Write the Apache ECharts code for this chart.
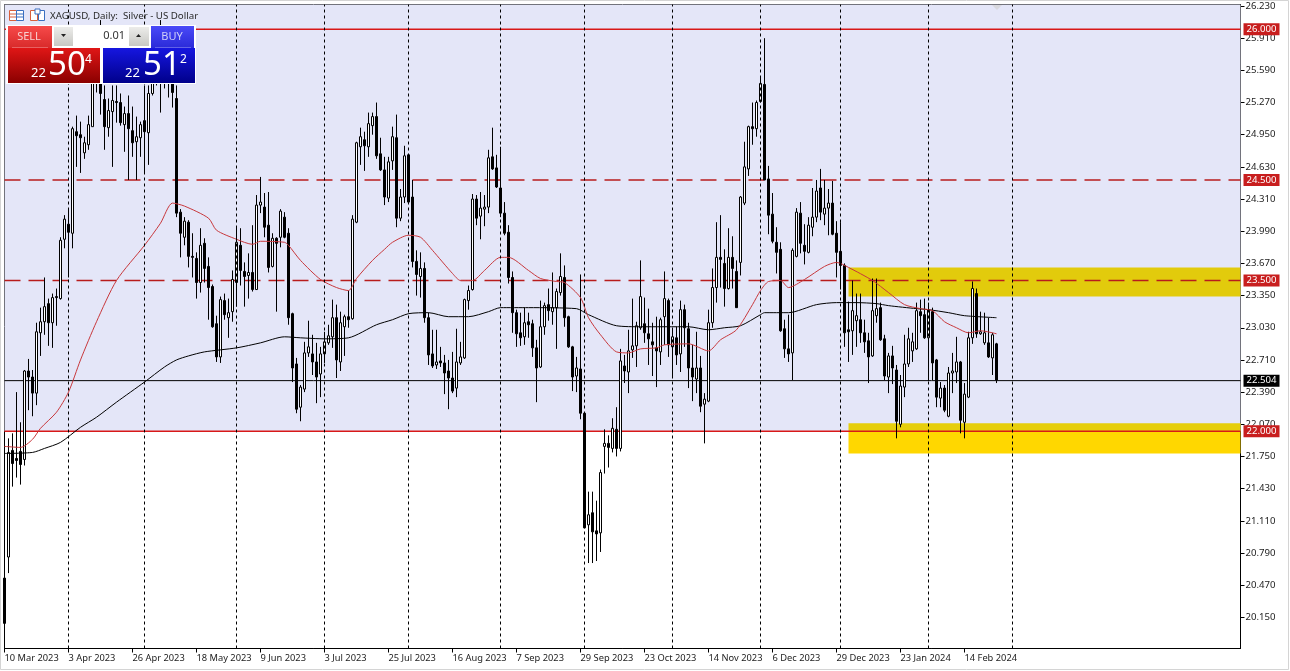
<!DOCTYPE html>
<html><head><meta charset="utf-8">
<style>html,body{margin:0;padding:0;background:#fff}#c{width:1290px;height:671px}</style>
<script src="https://cdn.jsdelivr.net/npm/echarts@6/dist/echarts.min.js"></script>
</head><body><div id="c"></div>
<script>
const opens=[20.54,20.75,21.81,21.73,21.80,21.72,22.60,22.54,22.38,22.98,
23.09,23.27,23.08,23.34,23.32,23.91,24.06,23.97,24.98,24.95,
24.77,24.85,25.03,25.69,25.67,25.30,25.02,25.18,25.28,25.27,
25.05,25.16,24.99,24.88,24.92,25.09,24.97,25.36,25.69,25.59,
25.77,25.67,25.54,25.31,24.18,23.93,24.08,23.74,23.72,23.48,
23.87,23.64,23.44,23.07,22.74,23.30,23.13,23.19,23.48,23.85,
23.59,23.55,23.58,23.41,24.25,24.23,24.05,23.64,23.92,23.93,
24.13,23.97,23.17,22.67,22.24,22.42,22.78,22.77,22.69,22.57,
22.77,22.88,22.94,23.13,22.69,23.04,23.14,23.12,24.08,24.83,
24.90,24.83,25.04,25.13,24.76,24.60,24.32,24.69,24.92,24.12,
24.33,24.75,24.33,23.69,23.54,23.62,23.13,22.77,22.66,22.70,
22.68,22.60,22.53,22.43,22.68,22.73,23.30,23.41,24.31,24.14,
24.21,24.23,24.73,24.62,24.42,24.17,23.98,23.53,23.18,22.98,
22.94,23.09,23.07,22.83,22.64,23.04,23.26,23.19,23.23,23.38,
23.53,23.14,22.84,22.55,22.62,22.18,21.07,21.19,21.01,20.99,
21.85,21.88,21.83,22.02,21.83,22.65,22.59,22.81,22.85,23.03,
23.07,22.97,22.89,22.83,22.79,23.14,23.30,22.84,22.93,22.77,
23.21,23.02,22.63,22.52,22.63,22.27,22.30,23.08,23.43,23.73,
23.67,23.42,23.73,23.59,23.68,24.27,24.61,25.03,25.01,25.28,
25.45,24.51,24.16,23.88,23.81,23.02,22.82,22.78,23.74,24.17,
23.85,23.78,24.03,24.13,24.42,24.16,24.22,24.27,23.97,23.79,
23.65,23.01,23.00,23.10,23.11,22.98,22.90,22.75,23.15,23.23,
22.92,22.54,22.75,22.61,22.07,22.44,22.67,22.80,22.82,23.19,
23.16,22.93,23.19,22.71,22.33,22.43,22.15,22.58,22.59,22.69,
22.09,22.34,22.93,23.37,22.97,22.88,22.88,22.73,22.87];
const closes=[20.09,21.79,21.68,21.71,21.67,22.60,22.54,22.38,22.99,23.09,
23.24,23.08,23.33,23.33,23.90,24.11,23.98,25.01,24.94,24.92,
24.87,25.05,25.54,25.54,25.36,25.03,25.19,25.29,25.27,25.07,
25.16,25.01,24.87,24.93,25.05,24.98,25.36,25.61,25.57,25.79,
25.63,25.51,25.37,24.17,23.97,24.09,23.74,23.73,23.48,23.85,
23.62,23.43,23.04,22.74,23.31,23.16,23.18,23.51,23.88,23.60,
23.54,23.58,23.41,24.25,24.28,24.03,23.63,23.92,23.87,24.19,
23.93,23.13,22.63,22.22,22.44,22.78,22.84,22.69,22.54,22.77,
22.89,22.95,23.13,22.71,23.08,23.14,23.11,24.11,24.87,24.93,
24.84,25.06,25.13,24.74,24.60,24.33,24.68,24.93,24.12,24.33,
24.74,24.28,23.69,23.56,23.62,23.13,22.76,22.65,22.69,22.68,
22.58,22.53,22.40,22.69,22.74,23.31,23.40,24.31,24.12,24.22,
24.23,24.72,24.61,24.43,24.17,23.97,23.53,23.18,22.97,22.93,
23.08,23.06,22.83,22.63,23.04,23.25,23.20,23.23,23.39,23.54,
23.13,22.84,22.54,22.63,22.18,21.04,21.17,21.00,20.98,21.59,
21.88,21.84,22.03,21.83,22.70,22.60,22.80,22.85,23.05,23.34,
22.98,22.92,22.86,22.80,23.11,23.32,22.86,22.94,22.76,23.21,
23.03,22.63,22.54,22.63,22.25,22.32,23.08,23.43,23.73,23.71,
23.42,23.73,23.62,23.23,24.33,24.63,25.03,25.01,25.27,25.46,
24.50,24.15,23.89,23.78,23.00,22.82,22.77,23.80,24.18,23.87,
23.79,24.05,24.13,24.39,24.18,24.22,24.27,23.96,23.78,23.65,
22.98,22.99,23.20,23.15,22.98,22.89,22.74,23.20,23.22,22.91,
22.55,22.75,22.63,22.10,22.45,22.67,22.92,22.89,23.20,23.15,
22.93,23.21,22.68,22.34,22.43,22.21,22.58,22.60,22.69,22.11,
22.37,22.93,23.42,22.97,22.99,22.98,22.74,22.96,22.51];
const lows=[20.09,20.59,21.45,21.54,21.47,21.66,22.21,22.15,22.26,22.75,
22.96,22.85,22.83,23.05,23.31,23.82,23.53,23.82,24.63,24.57,
24.71,24.80,25.03,25.37,25.15,24.80,24.93,24.63,25.07,25.04,
24.78,24.50,24.73,24.50,24.73,24.57,24.65,25.34,25.44,25.17,
25.41,25.32,25.22,24.13,23.73,23.85,23.63,23.53,23.32,23.38,
23.48,23.11,23.03,22.69,22.68,23.11,22.93,23.09,23.24,23.45,
23.24,23.32,23.39,23.41,24.17,23.93,23.58,23.63,23.19,23.83,
23.92,23.06,22.49,22.18,22.10,22.39,22.74,22.56,22.28,22.34,
22.68,22.86,22.83,22.53,22.60,22.75,23.03,23.11,24.07,24.65,
24.59,24.73,24.95,24.71,24.59,24.25,24.28,24.60,24.03,24.09,
24.27,24.27,23.63,23.35,23.33,23.08,22.66,22.63,22.62,22.64,
22.37,22.22,22.38,22.34,22.66,22.72,23.21,23.40,24.05,23.91,
24.04,24.17,24.60,24.42,24.13,23.95,23.47,22.98,22.84,22.85,
22.86,22.93,22.74,22.29,22.63,22.96,23.10,23.06,22.82,23.35,
23.04,22.83,22.40,22.39,22.12,21.04,20.69,20.69,20.71,20.80,
21.58,21.64,21.79,21.75,21.80,22.48,22.38,22.73,22.64,23.01,
22.88,22.66,22.55,22.44,22.66,22.86,22.74,22.53,22.66,22.59,
22.84,22.43,22.30,22.38,22.19,21.88,22.29,23.03,23.28,23.43,
23.24,23.41,23.42,23.23,23.55,24.25,24.54,24.85,24.93,25.27,
24.50,23.96,23.87,23.57,22.99,22.73,22.69,22.51,23.73,23.77,
23.66,23.77,23.94,24.08,24.10,24.05,23.95,23.95,23.53,23.41,
22.84,22.69,22.76,22.84,22.88,22.78,22.48,22.74,23.08,22.90,
22.51,22.38,22.47,21.93,22.04,22.34,22.64,22.69,22.81,22.98,
22.92,22.50,22.51,22.24,22.24,22.19,22.14,22.38,22.48,21.98,
21.93,22.33,22.87,22.93,22.96,22.86,22.73,22.56,22.48];
const highs=[20.57,21.93,21.98,22.39,22.09,22.61,22.72,22.61,23.08,23.23,
23.53,23.32,23.37,23.42,23.93,24.15,24.22,25.03,25.14,25.08,
24.93,25.14,25.59,25.74,26.09,25.44,25.31,25.44,25.44,25.36,
25.23,25.34,25.23,25.13,25.08,25.44,25.44,25.69,25.79,26.09,
25.87,25.79,25.64,25.44,24.21,24.13,24.10,23.97,23.78,24.02,
23.92,23.73,23.46,23.15,23.34,23.37,23.32,23.60,24.03,24.02,
23.68,23.77,24.05,24.35,24.53,24.37,24.38,23.97,23.93,24.21,
24.18,24.02,23.18,22.73,22.46,22.89,23.10,22.96,22.88,22.84,
22.99,23.06,23.31,23.26,23.19,23.16,23.40,24.15,24.88,25.02,
24.98,25.17,25.17,25.27,24.92,24.73,24.73,25.03,25.15,24.41,
24.84,24.76,24.50,23.80,23.78,23.68,23.18,23.01,23.01,22.84,
22.76,22.71,22.79,23.02,22.89,23.32,23.45,24.36,24.35,24.38,
24.35,24.80,25.02,24.75,24.83,24.28,24.05,23.59,23.21,23.18,
23.23,23.18,23.11,22.91,23.30,23.28,23.42,23.58,23.42,23.77,
23.65,23.15,22.85,22.74,23.56,22.19,21.40,21.40,21.31,21.62,
22.02,21.96,22.13,22.24,22.82,22.76,23.01,23.32,23.09,23.70,
23.33,23.22,23.08,23.14,23.13,23.59,23.32,23.01,23.04,23.30,
23.26,23.08,22.86,22.99,22.75,22.38,23.21,23.62,24.08,24.15,
23.81,24.02,23.94,23.70,24.34,24.88,25.04,25.27,25.29,25.53,
25.91,24.64,24.37,24.03,23.88,23.11,23.16,23.82,24.22,24.28,
24.06,24.13,24.42,24.50,24.61,24.50,24.41,24.49,24.09,24.08,
23.67,23.29,23.50,23.37,23.37,23.11,22.98,23.52,23.52,23.28,
22.96,22.78,22.85,22.66,22.56,22.96,23.03,22.98,23.28,23.31,
23.32,23.28,23.23,22.72,22.49,22.46,22.64,22.78,22.94,22.70,
22.48,22.99,23.49,23.42,23.19,23.18,23.13,22.98,22.88];

const redMA=[[0,21.85],[4,21.84],[7,21.92],[9,22.03],[13,22.19],[16,22.39],[19,22.71],[23,23.09],[28,23.50],[35,23.85],[39,24.07],[42,24.27],[45,24.24],[51,24.12],[53,24.00],[58,23.91],[62,23.86],[64,23.89],[70,23.88],[71,23.85],[74,23.70],[79,23.51],[83,23.43],[86,23.40],[88,23.52],[92,23.70],[95,23.81],[97,23.88],[101,23.95],[104,23.93],[107,23.80],[112,23.57],[114,23.50],[117,23.50],[120,23.60],[124,23.73],[126,23.73],[131,23.60],[134,23.52],[138,23.49],[140,23.48],[144,23.33],[146,23.13],[149,22.96],[153,22.79],[156,22.78],[159,22.82],[163,22.83],[165,22.86],[171,22.87],[176,22.80],[179,22.91],[183,23.01],[187,23.26],[189,23.40],[191,23.49],[194,23.50],[196,23.43],[200,23.51],[205,23.64],[208,23.68],[211,23.63],[217,23.50],[221,23.38],[225,23.26],[229,23.22],[232,23.20],[235,23.09],[238,23.03],[241,22.98],[244,23.00],[248,22.97]];
const blackMA=[[0,21.78],[7,21.79],[10,21.83],[14,21.89],[19,22.04],[23,22.14],[28,22.29],[35,22.49],[40,22.64],[43,22.71],[46,22.75],[50,22.79],[58,22.83],[64,22.88],[70,22.94],[74,22.93],[80,22.92],[86,22.93],[93,23.06],[97,23.11],[101,23.17],[106,23.18],[111,23.14],[116,23.14],[121,23.19],[124,23.23],[131,23.23],[143,23.22],[146,23.16],[153,23.05],[159,23.04],[171,23.04],[176,23.01],[180,23.03],[184,23.05],[189,23.16],[190,23.18],[196,23.18],[203,23.26],[208,23.28],[213,23.28],[218,23.27],[221,23.25],[228,23.22],[231,23.21],[236,23.18],[240,23.15],[248,23.13]];

const dateTickIdx=[0,16,32,48,64,80,96,112,128,144,160,176,192,208,224,240];
const dateTickLabels=['10 Mar 2023','3 Apr 2023','26 Apr 2023','18 May 2023','9 Jun 2023','3 Jul 2023','25 Jul 2023','16 Aug 2023','7 Sep 2023','29 Sep 2023','23 Oct 2023','14 Nov 2023','6 Dec 2023','29 Dec 2023','23 Jan 2024','14 Feb 2024'];
const periodSepIdx=[16,35,58,80,101,124,145,167,189,209,231,252];
const priceTicks=[20.15,20.47,20.79,21.11,21.43,21.75,22.07,22.39,22.71,23.03,23.35,23.67,23.99,24.31,24.63,24.95,25.27,25.59,25.91,26.23];
const solidLevels=[26.0,22.0];
const dashedLevels=[24.5,23.5];
const lastPrice=22.504;
const yAxisMin=19.84, yAxisMax=26.245, slotCount=310, zoneStartIdx=211;
const zoneUpper=[23.34,23.63];
const zoneLower=[21.78,22.08];

const FONT='"Noto Sans", Tahoma, sans-serif';
const cats=Array.from({length:slotCount},(_,i)=>String(i));
const last=String(slotCount-1), zs=String(zoneStartIdx);
const ohlc=opens.map((o,i)=>[o,closes[i],lows[i],highs[i]]);

function levelSeries(v,color,type,bg,width){
  return {type:'line',z:2.5,silent:true,showSymbol:false,symbol:'none',
    data:[[0,v],[slotCount-1,v]],
    lineStyle:{color,type,width:width||1},
    endLabel:{show:true,distance:3,formatter:()=>v.toFixed(3),color:'#fff',backgroundColor:bg,padding:[1,3,1,3],fontFamily:FONT,fontSize:9.6,lineHeight:10}};
}
function band(a,b,c){return [{yAxis:a,xAxis:zs,itemStyle:{color:c}},{yAxis:b,xAxis:last}];}
const gr=(a,b)=>new echarts.graphic.LinearGradient(0,0,0,1,[{offset:0,color:a},{offset:1,color:b}]);
const rect=(x,y,w,h,fill,stroke)=>({type:'rect',silent:true,shape:{x,y,width:w,height:h},style:{fill,stroke:stroke||null,lineWidth:1}});
const txt=(x,y,t,size,col,align)=>({type:'text',silent:true,x,y,style:{text:t,fontFamily:FONT,fontSize:size,fill:col,align:align||'left',verticalAlign:'middle'}});
const line=(x1,y1,x2,y2,c)=>({type:'line',silent:true,shape:{x1,y1,x2,y2},style:{stroke:c,lineWidth:1}});

const graphics=[
 rect(0.5,0.5,1288,669,'none','#d4d4d4'),
 {type:'polygon',silent:true,shape:{points:[[992,5],[1002,5],[997,10]]},style:{fill:'#d8d8de'}},
 txt(50,16,'XAGUSD, Daily:  Silver - US Dollar',9.7,'#2a2a2a'),
 rect(9.5,10.5,7,10,'#fff','#d8603c'),rect(16.5,10.5,7,10,'#fff','#3a6fc0'),
 line(10,14,16,14,'#d8603c'),line(10,17,16,17,'#d8603c'),line(17,14,23,14,'#3a6fc0'),line(17,17,23,17,'#3a6fc0'),
 rect(30.5,10.5,7,10,'#fff','#d8603c'),rect(38.5,10.5,6,10,'#fff','#3a6fc0'),rect(35,9,5,5,'#fff','#3a6fc0'),
 rect(6,25,190,59,'#fff'),
 rect(8,26,44,22,gr('#f74a4a','#d82a2a')),line(12,48,48,48,'#f49a9a'),
 txt(29,37,'SELL',11,'#f8cfcf','center'),
 rect(151,26,43,22,gr('#4a4af8','#2a2ad8')),line(155,48,191,48,'#9a9af4'),
 txt(172,37,'BUY',11,'#cfcff8','center'),
 rect(54,27,19,19,gr('#ececea','#c8c8c4')),rect(73,27,56,19,'#fff'),rect(129,27,20,19,gr('#ececea','#c8c8c4')),
 {type:'polygon',silent:true,shape:{points:[[61,34],[66,34],[63.5,37]]},style:{fill:'#222'}},
 {type:'polygon',silent:true,shape:{points:[[136,37],[141,37],[138.5,34]]},style:{fill:'#222'}},
 txt(125,36,'0.01',11,'#333','right'),
 rect(8,48,92,35,gr('#e01616','#8a0000')),
 rect(103,48,92,35,gr('#1616e0','#00008a')),
 txt(31,73,'22',13,'#fff'),txt(48,66,'50',33,'#fff'),txt(85,60,'4',12,'#fff'),
 txt(125,73,'22',13,'#fff'),txt(143,66,'51',33,'#fff'),txt(180,60,'2',12,'#fff')
].map((e,i)=>Object.assign(e,{z:100+i}));

const chart=echarts.init(document.getElementById('c'),null,{renderer:'canvas'});
chart.setOption({
 animation:false,backgroundColor:'#fff',
 grid:{left:4.5,top:4.5,width:1236,height:644,show:true,borderColor:'#000',borderWidth:1,backgroundColor:'#fff'},
 xAxis:{type:'category',data:cats,boundaryGap:false,
  axisLine:{lineStyle:{color:'#000',width:1}},
  axisTick:{length:4,lineStyle:{color:'#000'},interval:(i)=>dateTickIdx.includes(i)},
  axisLabel:{interval:(i)=>dateTickIdx.includes(i),formatter:(v)=>dateTickLabels[dateTickIdx.indexOf(Number(v))]||'',align:'left',margin:5,color:'#222',fontFamily:FONT,fontSize:9.3},
  splitLine:{show:false}},
 yAxis:{type:'value',position:'right',min:yAxisMin,max:yAxisMax,scale:true,
  axisLine:{show:true,lineStyle:{color:'#000',width:1}},
  axisTick:{show:true,length:4,lineStyle:{color:'#000'},customValues:priceTicks},
  axisLabel:{customValues:priceTicks,formatter:v=>Number(v).toFixed(3),margin:5,padding:[2,0,0,0],color:'#222',fontFamily:FONT,fontSize:9.6},
  splitLine:{show:false}},
 series:[
  {type:'line',z:1,silent:true,data:[],markArea:{silent:true,data:[
    [{yAxis:22.0,xAxis:'0',itemStyle:{color:'#E4E6F8'}},{yAxis:yAxisMax,xAxis:last}]]}},
  {type:'line',z:1.5,silent:true,data:[],markArea:{silent:true,data:[
    band(zoneUpper[0],zoneUpper[1],'#E2CB0C'),
    band(22.0,zoneLower[1],'#E6CE0C'),
    band(zoneLower[0],22.0,'#FFD700')]}},
  {type:'line',z:2,silent:true,data:[],markLine:{silent:true,symbol:'none',animation:false,
    lineStyle:{color:'#000',type:[3,3],width:1},label:{show:false},
    data:periodSepIdx.map(i=>({xAxis:String(i)}))}},
  ...dashedLevels.map(v=>levelSeries(v,'#b81c1c',[16,8],'#C81E1E',1.4)),
  levelSeries(lastPrice,'#000','solid','#000',1),
  ...solidLevels.map(v=>levelSeries(v,'#d81818','solid','#C81E1E',1.5)),
  {type:'candlestick',z:3,silent:true,data:ohlc,barWidth:3,
   itemStyle:{color:'#fff',color0:'#000',borderColor:'#000',borderColor0:'#000',borderWidth:1}},
  {type:'line',z:4,silent:true,data:blackMA,showSymbol:false,smooth:0.25,lineStyle:{color:'#000',width:1}},
  {type:'line',z:4,silent:true,data:redMA,showSymbol:false,smooth:0.25,lineStyle:{color:'#c8383c',width:1}}
 ],
 graphic:graphics
});
</script></body></html>
